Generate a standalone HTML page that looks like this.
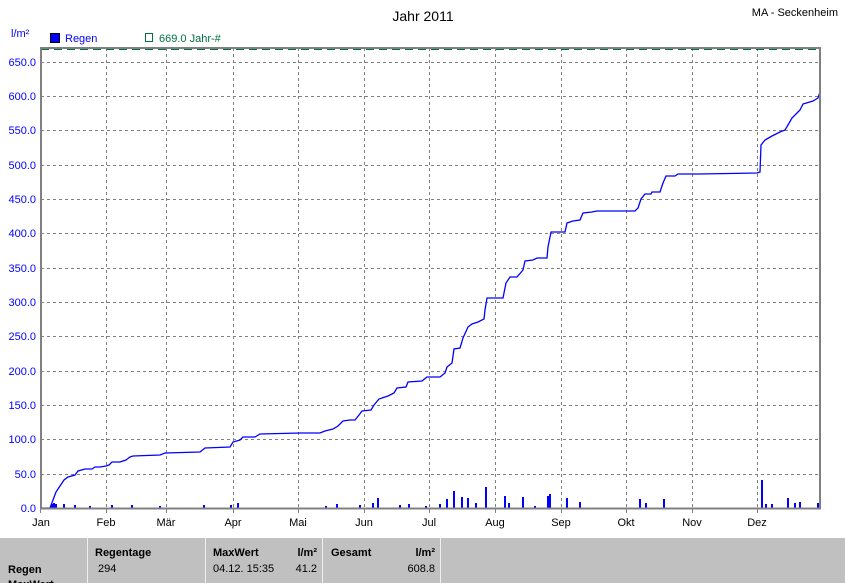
<!DOCTYPE html>
<html><head><meta charset="utf-8"><style>
body{margin:0;background:#fff;width:845px;height:583px;overflow:hidden;font-family:"Liberation Sans",sans-serif}
svg{display:block}
</style></head><body>
<svg width="845" height="583" viewBox="0 0 845 583" font-family="Liberation Sans, sans-serif" font-size="11">
<text x="423" y="21" text-anchor="middle" font-size="14">Jahr 2011</text>
<text x="838" y="16" text-anchor="end" font-size="11">MA - Seckenheim</text>
<text x="11" y="37" fill="#0000ff" font-size="11">l/m²</text>
<rect x="50.5" y="33.5" width="9" height="9" fill="#0000ff" stroke="#000"/>
<text x="65" y="42" fill="#0000ff">Regen</text>
<rect x="145.5" y="33.5" width="7" height="8" fill="none" stroke="#007040"/>
<text x="159" y="42" fill="#007040">669.0 Jahr-#</text>
<g stroke="#808080" stroke-dasharray="3,3" stroke-width="1">
<line x1="41" x2="820" y1="62.5" y2="62.5"/><line x1="41" x2="820" y1="96.5" y2="96.5"/>
<line x1="41" x2="820" y1="130.5" y2="130.5"/><line x1="41" x2="820" y1="165.5" y2="165.5"/>
<line x1="41" x2="820" y1="199.5" y2="199.5"/><line x1="41" x2="820" y1="233.5" y2="233.5"/>
<line x1="41" x2="820" y1="268.5" y2="268.5"/><line x1="41" x2="820" y1="302.5" y2="302.5"/>
<line x1="41" x2="820" y1="336.5" y2="336.5"/><line x1="41" x2="820" y1="371.5" y2="371.5"/>
<line x1="41" x2="820" y1="405.5" y2="405.5"/><line x1="41" x2="820" y1="439.5" y2="439.5"/>
<line x1="41" x2="820" y1="474.5" y2="474.5"/>
<line x1="106.5" x2="106.5" y1="48" y2="508"/><line x1="166.5" x2="166.5" y1="48" y2="508"/>
<line x1="233.5" x2="233.5" y1="48" y2="508"/><line x1="298.5" x2="298.5" y1="48" y2="508"/>
<line x1="364.5" x2="364.5" y1="48" y2="508"/><line x1="429.5" x2="429.5" y1="48" y2="508"/>
<line x1="495.5" x2="495.5" y1="48" y2="508"/><line x1="561.5" x2="561.5" y1="48" y2="508"/>
<line x1="626.5" x2="626.5" y1="48" y2="508"/><line x1="692.5" x2="692.5" y1="48" y2="508"/>
<line x1="757.5" x2="757.5" y1="48" y2="508"/>
</g>
<line x1="41" x2="820" y1="49.5" y2="49.5" stroke="#007040" stroke-dasharray="8,5"/>
<g stroke="#0000ff" stroke-width="2">
<line x1="52" x2="52" y1="508" y2="504"/><line x1="54" x2="54" y1="508" y2="503"/><line x1="56" x2="56" y1="508" y2="504"/>
<line x1="64" x2="64" y1="508" y2="504"/><line x1="75" x2="75" y1="508" y2="505"/><line x1="90" x2="90" y1="508" y2="506"/>
<line x1="112" x2="112" y1="508" y2="505"/><line x1="132" x2="132" y1="508" y2="505"/><line x1="160" x2="160" y1="508" y2="506"/>
<line x1="204" x2="204" y1="508" y2="505"/><line x1="231" x2="231" y1="508" y2="505"/><line x1="238" x2="238" y1="508" y2="503"/>
<line x1="326" x2="326" y1="508" y2="506"/><line x1="337" x2="337" y1="508" y2="504"/><line x1="360" x2="360" y1="508" y2="505"/>
<line x1="373" x2="373" y1="508" y2="503"/><line x1="378" x2="378" y1="508" y2="498"/><line x1="400" x2="400" y1="508" y2="505"/>
<line x1="409" x2="409" y1="508" y2="504"/><line x1="426" x2="426" y1="508" y2="506"/><line x1="440" x2="440" y1="508" y2="504"/>
<line x1="447" x2="447" y1="508" y2="499"/><line x1="454" x2="454" y1="508" y2="491"/><line x1="462" x2="462" y1="508" y2="497"/>
<line x1="468" x2="468" y1="508" y2="498"/><line x1="476" x2="476" y1="508" y2="503"/><line x1="486" x2="486" y1="508" y2="487"/>
<line x1="505" x2="505" y1="508" y2="496"/><line x1="509" x2="509" y1="508" y2="503"/><line x1="523" x2="523" y1="508" y2="497"/>
<line x1="535" x2="535" y1="508" y2="506"/><line x1="548" x2="548" y1="508" y2="496"/><line x1="550" x2="550" y1="508" y2="494"/>
<line x1="567" x2="567" y1="508" y2="498"/><line x1="580" x2="580" y1="508" y2="502"/><line x1="640" x2="640" y1="508" y2="499"/>
<line x1="646" x2="646" y1="508" y2="503"/><line x1="664" x2="664" y1="508" y2="499"/><line x1="762" x2="762" y1="508" y2="480"/>
<line x1="766" x2="766" y1="508" y2="504"/><line x1="772" x2="772" y1="508" y2="504"/><line x1="788" x2="788" y1="508" y2="498"/>
<line x1="795" x2="795" y1="508" y2="503"/><line x1="800" x2="800" y1="508" y2="502"/><line x1="818" x2="818" y1="508" y2="503"/>
</g>
<polyline fill="none" stroke="#0000ff" stroke-width="1.3" points="40,508 50,508 53,500 56,492 60,486 64,480 68,477 75,475 78,471 85,469 92,469 95,467 100,467 106,466 109,465 112,462 120,462 126,460 130,457 133,456 160,455 165,453 200,452 205,448 230,447 233,442 240,440 243,437 255,437 260,434 300,433 320,433 325,431 333,429 338,426 343,421 350,420 355,420 359,415 362,411 371,410 374,405 379,399 388,396 394,393 397,388 406,387 408,382 422,381 427,377 440,377 445,373 447,367 452,363 454,349 460,348 463,338 468,327 472,324 478,322 484,319 485,310 487,298 503,298 506,283 510,277 517,277 523,270 525,261 533,260 537,258 547,258 548,247 551,232 565,232 567,223 573,221 580,220 583,213 592,212 597,211 635,211 638,208 641,199 645,194 651,194 652,192 660,192 663,183 666,176 675,176 678,174 700,174 757,173 760,172 761,145 765,140 772,136 780,132 785,130 788,125 792,118 798,112 800,110 803,104 813,101 818,98 820,92"/>
<path d="M41,508 V48 H820 V509" fill="none" stroke="#808080" stroke-width="2"/>
<line x1="40" x2="821" y1="508.5" y2="508.5" stroke="#808080" stroke-width="2"/>
<g fill="#0000ff" text-anchor="end">
<text x="36" y="66">650.0</text><text x="36" y="100">600.0</text><text x="36" y="134">550.0</text>
<text x="36" y="169">500.0</text><text x="36" y="203">450.0</text><text x="36" y="237">400.0</text>
<text x="36" y="272">350.0</text><text x="36" y="306">300.0</text><text x="36" y="340">250.0</text>
<text x="36" y="375">200.0</text><text x="36" y="409">150.0</text><text x="36" y="443">100.0</text>
<text x="36" y="478">50.0</text><text x="36" y="512">0.0</text>
</g>
<g stroke="#808080"><line x1="40.5" x2="40.5" y1="508" y2="513"/><line x1="106.5" x2="106.5" y1="508" y2="513"/><line x1="166.5" x2="166.5" y1="508" y2="513"/><line x1="233.5" x2="233.5" y1="508" y2="513"/><line x1="298.5" x2="298.5" y1="508" y2="513"/><line x1="364.5" x2="364.5" y1="508" y2="513"/><line x1="429.5" x2="429.5" y1="508" y2="513"/><line x1="495.5" x2="495.5" y1="508" y2="513"/><line x1="561.5" x2="561.5" y1="508" y2="513"/><line x1="626.5" x2="626.5" y1="508" y2="513"/><line x1="692.5" x2="692.5" y1="508" y2="513"/><line x1="757.5" x2="757.5" y1="508" y2="513"/></g>
<g text-anchor="middle" fill="#000">
<text x="41" y="526">Jan</text><text x="106" y="526">Feb</text><text x="166" y="526">Mär</text>
<text x="233" y="526">Apr</text><text x="298" y="526">Mai</text><text x="364" y="526">Jun</text>
<text x="429" y="526">Jul</text><text x="495" y="526">Aug</text><text x="561" y="526">Sep</text>
<text x="626" y="526">Okt</text><text x="692" y="526">Nov</text><text x="757" y="526">Dez</text>
</g>
<rect x="0" y="538" width="845" height="45" fill="#c0c0c0"/>
<g stroke="#f0f0f0" stroke-width="1"><line x1="87.5" x2="87.5" y1="538" y2="583"/><line x1="205.5" x2="205.5" y1="538" y2="583"/><line x1="322.5" x2="322.5" y1="538" y2="583"/><line x1="440.5" x2="440.5" y1="538" y2="583"/></g>
<g font-size="11">
<text x="95" y="556" font-weight="bold">Regentage</text>
<text x="213" y="556" font-weight="bold">MaxWert</text>
<text x="317" y="556" font-weight="bold" text-anchor="end">l/m²</text>
<text x="331" y="556" font-weight="bold">Gesamt</text>
<text x="435" y="556" font-weight="bold" text-anchor="end">l/m²</text>
<text x="8" y="573" font-weight="bold">Regen</text>
<text x="98" y="572">294</text>
<text x="213" y="572">04.12.  15:35</text>
<text x="317" y="572" text-anchor="end">41.2</text>
<text x="435" y="572" text-anchor="end">608.8</text>
<text x="8" y="588" font-weight="bold">MaxWert</text>
</g>
</svg>
</body></html>
